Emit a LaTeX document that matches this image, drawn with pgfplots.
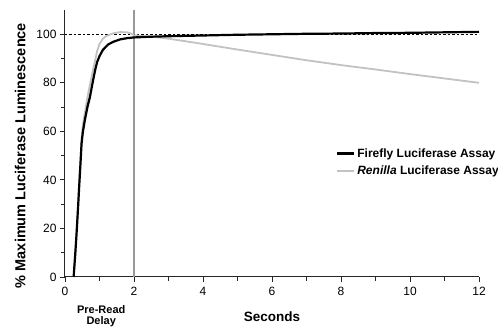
\documentclass[border=0pt]{standalone}
\usepackage{fontspec}
\setmainfont{Liberation Sans}
\usepackage{pgfplots}
\pgfplotsset{compat=1.18}
\definecolor{renilla}{gray}{0.76}
\definecolor{vline}{gray}{0.6}
\begin{document}
\begin{tikzpicture}
\path[use as bounding box] (-65pt,-52pt) rectangle (433pt,277pt);
\begin{axis}[
  scale only axis,
  width=414pt, height=267pt,
  xmin=0, xmax=12, ymin=0, ymax=110,
  axis lines*=left,
  axis line style={line width=1pt, black!85},
  xtick={0,2,4,6,8,10,12},
  ytick={0,20,40,60,80,100},
  minor xtick={1,3,5,7,9,11},
  minor ytick={10,30,50,70,90},
  tick align=outside,
  major tick length=5pt, minor tick length=4pt,
  tick style={line width=0.9pt, black!85},
  /pgf/number format/assume math mode=true,
  ticklabel style={font=\fontsize{12}{12}\selectfont},
  xticklabel style={yshift=-1.5pt},
  xlabel={\bfseries Seconds},
  xlabel style={font=\fontsize{13.5}{13.5}\selectfont, yshift=-9pt},
  ylabel={\bfseries \% Maximum Luciferase Luminescence},
  ylabel style={font=\fontsize{14.5}{14.5}\selectfont, at={(ticklabel cs:0.455)}, yshift=4pt},
  clip=false,
  legend cell align=left,
  legend style={draw=none, fill=none, at={(0.647,0.43)}, anchor=west,
    font=\fontsize{12}{14}\selectfont\bfseries, row sep=3pt},
]
\addplot[vline, line width=2pt, forget plot] coordinates {(2,0) (2,110)};
\addplot[black, line width=0.8pt, dash pattern=on 2.5pt off 2pt, forget plot] coordinates {(0,100) (12,100)};
\addplot[renilla, line width=1.8pt, forget plot] coordinates {
(0.25,0)(0.30,10)(0.34,20)(0.38,30)(0.41,39)(0.45,49)(0.48,57)(0.52,63)(0.58,68)(0.65,74)(0.72,79)(0.80,84.5)(0.87,89)(0.93,93)(1.0,96)(1.1,98.2)(1.2,99.3)(1.4,100.4)(1.6,100.9)(1.8,100.8)(1.9,100.4)(2.0,99.6)(2.3,99.2)(2.6,98.9)(3,98.2)(3.5,97.1)(4,96.0)(5,93.7)(6,91.5)(7,89.3)(8,87.3)(9,85.5)(10,83.6)(11,81.8)(12,80.0)
};
\addplot[black, line width=2.2pt] coordinates {
(0.25,0)(0.30,10)(0.34,19)(0.38,29)(0.41,37)(0.45,47)(0.48,55)(0.52,60)(0.58,65)(0.65,70)(0.72,74)(0.80,80)(0.87,85)(0.93,88.5)(1.0,91)(1.1,93.6)(1.25,95.8)(1.4,96.9)(1.6,97.9)(1.8,98.4)(2.0,98.7)(2.5,99.0)(3,99.2)(4,99.5)(5,99.8)(6,100.0)(7,100.2)(8,100.3)(9,100.5)(10,100.6)(11,100.8)(12,101.0)
};
\addlegendentry{Firefly Luciferase Assay}
\addlegendimage{renilla, line width=1.8pt}
\addlegendentry{\itshape Renilla\upshape{} Luciferase Assay}
\node[font=\fontsize{11}{11}\selectfont\bfseries, align=center, anchor=north, inner sep=1pt] at (axis cs:1.05,-11.2) {Pre-Read\\Delay};
\end{axis}
\end{tikzpicture}
\end{document}
